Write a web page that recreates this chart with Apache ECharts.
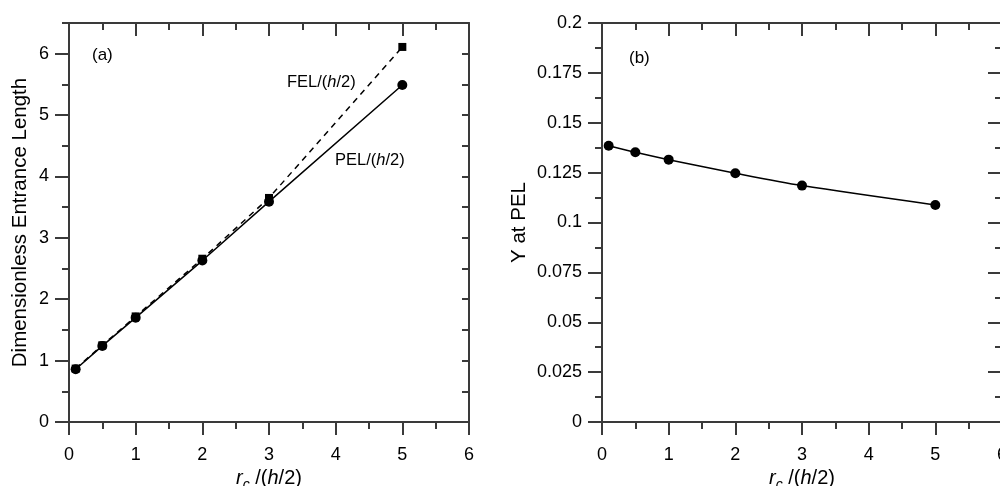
<!DOCTYPE html>
<html>
<head>
<meta charset="utf-8">
<script src="https://cdn.jsdelivr.net/npm/echarts@6/dist/echarts.min.js"></script>
<style>
  html, body { margin: 0; padding: 0; background: #fff; }
  #chart { width: 1000px; height: 486px; }
</style>
</head>
<body>
<div id="chart"></div>
<script>
// rc/(h/2) values
var rcValues = [0.1, 0.5, 1, 2, 3, 5];
// panel (a): entrance lengths
var felValues = [0.87, 1.25, 1.72, 2.66, 3.65, 6.11];
var pelValues = [0.86, 1.24, 1.70, 2.63, 3.59, 5.49];
// panel (b): Y at PEL
var yPelValues = [0.1385, 0.1352, 0.1315, 0.1247, 0.1185, 0.1088];
// major tick values on the left panel y axis
var entranceTicks = [0, 1, 2, 3, 4, 5, 6];

var FONT = "'Liberation Sans', Arial, sans-serif";
var AXIS_COLOR = '#3a3a3a';

function pairs(xs, ys) {
    return xs.map(function (x, i) { return [x, ys[i]]; });
}

var xName = '{i|r}{s|c}{n| /(}{i|h}{n|/2)}';
var xNameStyle = {
    fontFamily: FONT, fontSize: 20, color: '#000',
    rich: {
        n: { fontFamily: FONT, fontSize: 20, color: '#000' },
        i: { fontFamily: FONT, fontSize: 20, fontStyle: 'italic', color: '#000' },
        s: { fontFamily: FONT, fontSize: 14, fontStyle: 'italic', color: '#000', padding: [12, 0, 0, 0] }
    }
};

function xAxis(grid, pos) {
    var bottom = pos === 'bottom';
    return {
        type: 'value', gridIndex: grid, position: pos,
        min: 0, max: 6, interval: 1,
        name: bottom ? xName : '', nameLocation: 'middle', nameGap: 39,
        nameTextStyle: xNameStyle,
        axisLine: { show: true, onZero: false, lineStyle: { color: AXIS_COLOR, width: 2 } },
        axisTick: { show: true, inside: !bottom, length: 13, lineStyle: { color: AXIS_COLOR, width: 2 } },
        minorTick: { show: true, splitNumber: 2, length: 7, lineStyle: { color: AXIS_COLOR, width: 2 } },
        axisLabel: { show: bottom, margin: 24, fontFamily: FONT, fontSize: 18, color: '#000' },
        splitLine: { show: false }
    };
}

var option = {
    animation: false,
    backgroundColor: '#fff',
    grid: [
        { left: 69, top: 23, width: 400, height: 399, containLabel: false, outerBoundsMode: 'none' },
        { left: 602, top: 23, width: 400, height: 399, containLabel: false, outerBoundsMode: 'none' }
    ],
    xAxis: [
        xAxis(0, 'bottom'), xAxis(0, 'top'),
        xAxis(1, 'bottom'), xAxis(1, 'top')
    ],
    yAxis: [
        // (a) left, minor ticks every 0.5
        {
            type: 'value', gridIndex: 0, position: 'left', min: 0, max: 6.5, interval: 0.5,
            name: 'Dimensionless Entrance Length', nameLocation: 'middle', nameGap: 38,
            nameTextStyle: { fontFamily: FONT, fontSize: 20.5, color: '#000' },
            axisLine: { show: true, onZero: false, lineStyle: { color: AXIS_COLOR, width: 2 } },
            axisTick: { show: true, length: 7, lineStyle: { color: AXIS_COLOR, width: 2 } },
            axisLabel: { show: false },
            splitLine: { show: false }
        },
        // (a) left, major ticks and labels
        {
            type: 'value', gridIndex: 0, position: 'left', min: 0, max: 6.5, interval: 1,
            axisLine: { show: false },
            axisTick: { show: true, length: 14, customValues: entranceTicks, lineStyle: { color: AXIS_COLOR, width: 2 } },
            axisLabel: { show: true, margin: 20, customValues: entranceTicks, fontFamily: FONT, fontSize: 18, color: '#000' },
            splitLine: { show: false }
        },
        // (a) right
        {
            type: 'value', gridIndex: 0, position: 'right', min: 0, max: 6.5, interval: 0.5,
            axisLine: { show: true, onZero: false, lineStyle: { color: AXIS_COLOR, width: 2 } },
            axisTick: { show: true, inside: true, length: 7, lineStyle: { color: AXIS_COLOR, width: 2 } },
            axisLabel: { show: false },
            splitLine: { show: false }
        },
        {
            type: 'value', gridIndex: 0, position: 'right', min: 0, max: 6.5, interval: 1,
            axisLine: { show: false },
            axisTick: { show: true, inside: true, length: 14, customValues: entranceTicks, lineStyle: { color: AXIS_COLOR, width: 2 } },
            axisLabel: { show: false },
            splitLine: { show: false }
        },
        // (b) left
        {
            type: 'value', gridIndex: 1, position: 'left', min: 0, max: 0.2, interval: 0.025,
            name: 'Y at PEL', nameLocation: 'middle', nameGap: 72,
            nameTextStyle: { fontFamily: FONT, fontSize: 20.5, color: '#000' },
            axisLine: { show: true, onZero: false, lineStyle: { color: AXIS_COLOR, width: 2 } },
            axisTick: { show: true, length: 14, lineStyle: { color: AXIS_COLOR, width: 2 } },
            minorTick: { show: true, splitNumber: 2, length: 7, lineStyle: { color: AXIS_COLOR, width: 2 } },
            axisLabel: { show: true, margin: 20, fontFamily: FONT, fontSize: 18, color: '#000' },
            splitLine: { show: false }
        },
        // (b) right
        {
            type: 'value', gridIndex: 1, position: 'right', min: 0, max: 0.2, interval: 0.025,
            axisLine: { show: true, onZero: false, lineStyle: { color: AXIS_COLOR, width: 2 } },
            axisTick: { show: true, inside: true, length: 14, lineStyle: { color: AXIS_COLOR, width: 2 } },
            minorTick: { show: true, splitNumber: 2, length: 7, lineStyle: { color: AXIS_COLOR, width: 2 } },
            axisLabel: { show: false },
            splitLine: { show: false }
        }
    ],
    series: [
        {
            name: 'FEL/(h/2)', type: 'line', xAxisIndex: 0, yAxisIndex: 0,
            data: pairs(rcValues, felValues),
            symbol: 'rect', symbolSize: 8,
            lineStyle: { color: '#000', width: 1.5, type: [6, 5] },
            itemStyle: { color: '#000' }
        },
        {
            name: 'PEL/(h/2)', type: 'line', xAxisIndex: 0, yAxisIndex: 0,
            data: pairs(rcValues, pelValues),
            symbol: 'circle', symbolSize: 10,
            lineStyle: { color: '#000', width: 1.5 },
            itemStyle: { color: '#000' }
        },
        {
            name: 'Y at PEL', type: 'line', xAxisIndex: 2, yAxisIndex: 4,
            data: pairs(rcValues, yPelValues),
            symbol: 'circle', symbolSize: 10, smooth: 0.3,
            lineStyle: { color: '#000', width: 1.5 },
            itemStyle: { color: '#000' }
        }
    ],
    graphic: [
        { type: 'text', left: 92, top: 47, style: { text: '(a)', font: '17px ' + FONT, fill: '#000' } },
        { type: 'text', left: 629, top: 50, style: { text: '(b)', font: '17px ' + FONT, fill: '#000' } },
        {
            type: 'text', left: 287, top: 74,
            style: {
                text: '{n|FEL/(}{i|h}{n|/2)}', fill: '#000',
                rich: {
                    n: { fontFamily: FONT, fontSize: 16.5, fill: '#000' },
                    i: { fontFamily: FONT, fontSize: 16.5, fontStyle: 'italic', fill: '#000' }
                }
            }
        },
        {
            type: 'text', left: 335, top: 152,
            style: {
                text: '{n|PEL/(}{i|h}{n|/2)}', fill: '#000',
                rich: {
                    n: { fontFamily: FONT, fontSize: 16.5, fill: '#000' },
                    i: { fontFamily: FONT, fontSize: 16.5, fontStyle: 'italic', fill: '#000' }
                }
            }
        }
    ]
};

var chart = echarts.init(document.getElementById('chart'), null, { renderer: 'canvas' });
chart.setOption(option);
</script>
</body>
</html>
